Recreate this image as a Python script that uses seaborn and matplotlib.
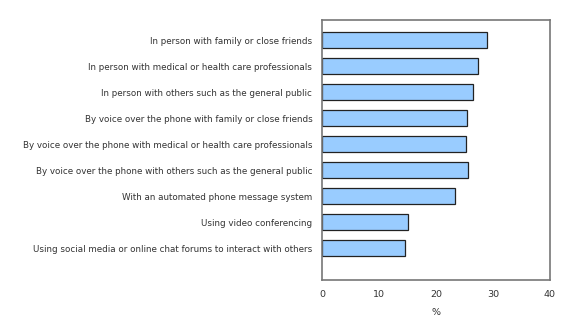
import matplotlib
matplotlib.use("Agg")
import matplotlib.pyplot as plt
import seaborn as sns
import pandas as pd

categories = [
    "In person with family or close friends",
    "In person with medical or health care professionals",
    "In person with others such as the general public",
    "By voice over the phone with family or close friends",
    "By voice over the phone with medical or health care professionals",
    "By voice over the phone with others such as the general public",
    "With an automated phone message system",
    "Using video conferencing",
    "Using social media or online chat forums to interact with others",
]
values = [28.9, 27.3, 26.5, 25.5, 25.2, 25.6, 23.4, 15.0, 14.5]
x_ticks = [0, 10, 20, 30, 40]
x_label = "%"

df = pd.DataFrame({"category": categories, "value": values})

sns.set_theme(style="white")
plt.rcParams["font.family"] = ["DejaVu Sans"]

fig = plt.figure(figsize=(5.8, 3.2), dpi=100)
ax = fig.add_axes([322 / 580, 40 / 320, 228 / 580, 260 / 320])

sns.barplot(data=df, x="value", y="category", ax=ax, color="#99ccff",
            saturation=1, width=0.6, edgecolor="#222222", linewidth=0.9)

ax.set_xlim(0, 40)
ax.set_ylim(9.22, -0.78)
ax.set_xticks(x_ticks)
ax.set_xticklabels([str(t) for t in x_ticks])
ax.set_xlabel(x_label, fontsize=6.8, color="#333333", labelpad=7)
ax.set_ylabel("")
ax.tick_params(axis="x", direction="in", length=4, width=1, colors="#777777",
               labelcolor="#333333", labelsize=6.8, pad=7)
ax.tick_params(axis="y", length=0, labelcolor="#333333", labelsize=6.35, pad=7)
for sp in ax.spines.values():
    sp.set_visible(True)
    sp.set_color("#777777")
    sp.set_linewidth(1.2)

fig.savefig("out.png", dpi=100)
